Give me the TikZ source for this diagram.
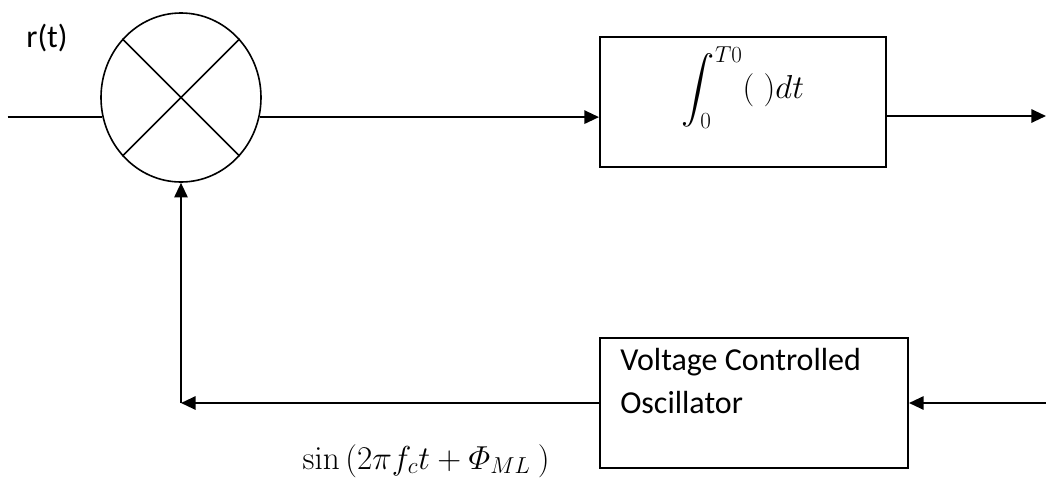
\documentclass[tikz,border=0pt]{standalone}
\usepackage{amsmath}
\usepackage[no-math]{fontspec}
\setmainfont{Carlito}
\usetikzlibrary{arrows.meta,positioning,shapes.geometric}

\begin{document}
\begin{tikzpicture}[x=0.75pt,y=-0.75pt,
 block/.style={draw,line width=1.5pt,minimum height=97.5pt,inner sep=0pt},
 mixer/.style={draw,ellipse,line width=1.2pt,minimum width=120pt,
 minimum height=126.75pt,inner sep=0pt},
 flow/.style={-{Triangle[length=11pt,width=10pt]},line width=1.5pt},
 wire/.style={line width=1.5pt},
 lbl/.style={font=\fontsize{24}{32}\selectfont}]
\useasboundingbox (0,0) rectangle (1046,479);
% mixer and its cross
\node[mixer] (mix) at (181,97.5) {};
\draw[line width=1.2pt] (mix.135) -- (mix.-45) (mix.45) -- (mix.-135);
\node[lbl] (rt) at (47,38) {r(t)};
% integrator and oscillator
\node[block,lbl,minimum width=214.5pt] (integ) at (743,102)
 {\raisebox{2.5pt}[0pt][0pt]{$\displaystyle\int_0^{T0}(\;)dt$}};
\node[block,minimum width=231pt,below=126.75pt of integ.south west,anchor=north west] (vco) {};
\node[lbl,anchor=base west,align=left,inner sep=0pt] (vcotext) at ([xshift=15.75pt,yshift=-57pt]vco.north west)
 {Voltage Controlled\\Oscillator};
\node[lbl,anchor=base west,font=\fontsize{24}{30}\selectfont] (phase) at (298,469)
 {$\sin\,(2\pi f_ct+\mathnormal{\Phi}_{ML}\ )$};
% connectors
\coordinate (in) at ([xshift=-71pt]mix.194);
\coordinate (out) at (1046,116);
\coordinate (corner) at (mix.south |- vco.west);
\coordinate (vin) at ([xshift=103.5pt]vco.east);
\draw[wire] (in) -- (mix.194);
\draw[flow] (mix.-14) -- (mix.-14 -| integ.west);
\draw[flow] (out -| integ.east) -- (out);
\draw[flow] (vco.west) -- (corner);
\draw[flow] (corner) -- (mix.south);
\draw[flow] (vin) -- (vco.east);
\end{tikzpicture}
\end{document}
